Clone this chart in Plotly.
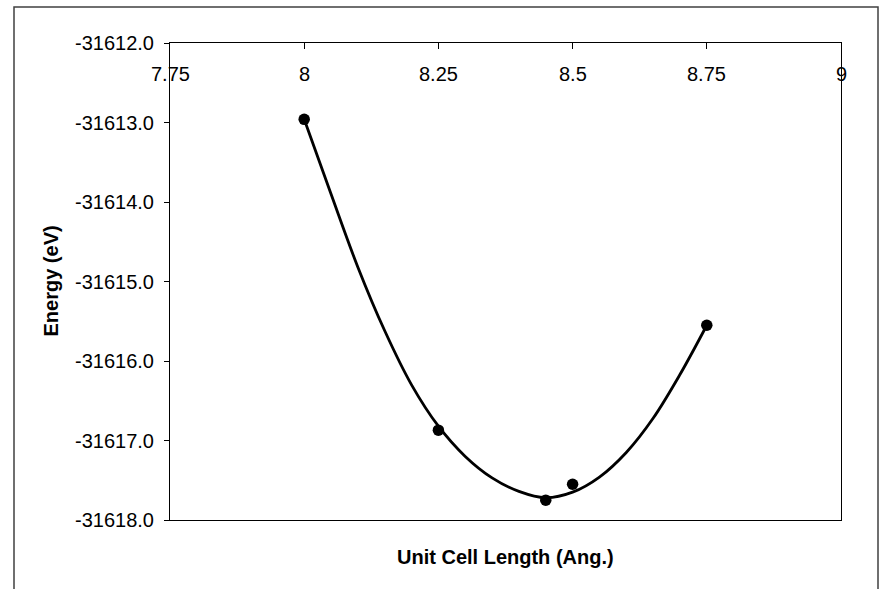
import plotly.graph_objects as go

# Measured data points
cell_length = [8.00, 8.25, 8.45, 8.50, 8.75]
energy = [-31612.96, -31616.87, -31617.75, -31617.55, -31615.55]

# Trendline
trend_x = [8.00, 8.05, 8.10, 8.15, 8.20, 8.25, 8.30, 8.35, 8.40, 8.45, 8.50, 8.55, 8.60, 8.65, 8.70, 8.75]
trend_y = [-31612.96, -31613.90, -31614.82, -31615.62, -31616.30, -31616.82, -31617.20, -31617.47,
           -31617.64, -31617.72, -31617.65, -31617.46, -31617.15, -31616.72, -31616.17, -31615.55]

x_ticks = [7.75, 8.0, 8.25, 8.5, 8.75, 9.0]
x_tick_text = ["7.75", "8", "8.25", "8.5", "8.75", "9"]
y_ticks = [-31612, -31613, -31614, -31615, -31616, -31617, -31618]
y_tick_text = ["-31612.0", "-31613.0", "-31614.0", "-31615.0", "-31616.0", "-31617.0", "-31618.0"]

FONT = "Liberation Sans, Arial, sans-serif"

fig = go.Figure()
fig.add_trace(go.Scatter(
    x=trend_x, y=trend_y, mode="lines",
    line=dict(color="black", width=2.8, shape="spline", smoothing=1.0),
    showlegend=False, hoverinfo="skip"))
fig.add_trace(go.Scatter(
    x=cell_length, y=energy, mode="markers",
    marker=dict(color="black", size=11.5, symbol="circle"),
    showlegend=False))

L, R, T, B = 170, 38, 43, 69
W, H = 879, 589
pw, ph = W - L - R, H - T - B

def px_x(p):
    return (p - L) / pw

def px_y(p):
    return (H - B - p) / ph

annotations = [
    dict(text="<b>Unit Cell Length (Ang.)</b>", xref="paper", yref="paper",
         x=0.5, y=px_y(557), xanchor="center", yanchor="middle",
         showarrow=False, font=dict(family=FONT, size=20, color="black")),
    dict(text="<b>Energy (eV)</b>", xref="paper", yref="paper",
         x=px_x(50), y=0.5, xanchor="center", yanchor="middle", textangle=-90,
         showarrow=False, font=dict(family=FONT, size=20, color="black")),
]
# x tick labels sit just below the top axis line, inside the plot area
for v, t in zip(x_ticks, x_tick_text):
    annotations.append(dict(
        text=t, xref="x", yref="paper", x=v, y=px_y(74),
        xanchor="center", yanchor="middle", showarrow=False,
        font=dict(family=FONT, size=20, color="black")))

fig.update_layout(
    width=W, height=H,
    margin=dict(l=L, r=R, t=T, b=B, pad=0),
    paper_bgcolor="white", plot_bgcolor="white",
    font=dict(family=FONT, size=20, color="black"),
    xaxis=dict(
        range=[7.75, 9], side="top",
        tickvals=x_ticks, ticktext=x_tick_text, showticklabels=False,
        ticks="inside", ticklen=6, tickcolor="black", tickwidth=1,
        showline=True, linecolor="black", linewidth=1, mirror=True,
        showgrid=False, zeroline=False,
    ),
    yaxis=dict(
        range=[-31618, -31612],
        tickvals=y_ticks, ticktext=y_tick_text,
        ticks="outside", ticklen=5, tickcolor="black", tickwidth=1,
        ticklabelstandoff=6,
        showline=True, linecolor="black", linewidth=1, mirror=True,
        showgrid=False, zeroline=False,
        tickfont=dict(family=FONT, size=20, color="black"),
    ),
    shapes=[dict(
        type="rect", xref="paper", yref="paper",
        x0=px_x(14), x1=px_x(878), y0=px_y(640), y1=px_y(7),
        line=dict(color="#404040", width=1.5), layer="below")],
    annotations=annotations,
)

fig.write_html("out.html")
